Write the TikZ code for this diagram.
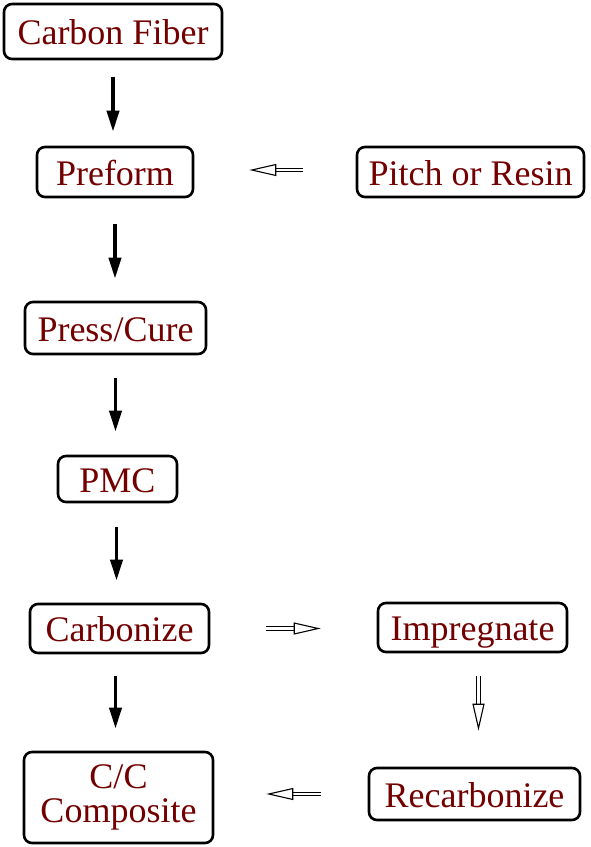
\documentclass[tikz,border=0pt]{standalone}
\usepackage{fontspec}
\setmainfont{Liberation Serif}
\usepackage{xcolor}
\usetikzlibrary{arrows.meta, calc}
\definecolor{step_red}{RGB}{115,0,0}

\tikzset{
  stage/.style={draw, line width=2.6pt, rounded corners=8pt, inner sep=0pt,
    text=step_red, align=center, font=\fontsize{36}{34}\selectfont},
  oneline/.style={stage, text height=26pt, text depth=0pt},
  solidflow/.style={line width=3.8pt, -{Triangle[length=21pt, width=12pt]}},
  hollowflow/.style={line width=1.1pt, double distance=2.2pt,
    -{Triangle[open, length=27pt, width=12pt]}},
}

\begin{document}
\begin{tikzpicture}[x=1pt,y=-1pt]
            \useasboundingbox (0,0) rectangle (591,847);
            %左の列
            \node[oneline, minimum width=218pt, minimum height=55pt] (carbonfiber) at (113,31.5) {Carbon Fiber};
            \node[oneline, minimum width=156pt, minimum height=50pt] (preform) at (115,172) {Preform};
            \node[oneline, minimum width=181pt, minimum height=52pt] (press) at (115.5,328) {Press/Cure};
            \node[oneline, minimum width=119pt, minimum height=46pt] (pmc) at (117.5,479) {PMC};
            \node[oneline, minimum width=179pt, minimum height=49pt] (carbonize) at (119.5,628.5) {Carbonize};
            \node[stage, minimum width=189pt, minimum height=91pt] (cc) at (118.5,797.5) {C/C\\Composite};
            %右の列
            \node[oneline, minimum width=227pt, minimum height=50pt] (pitch) at (470.5,172) {Pitch or Resin};
            \node[oneline, minimum width=189pt, minimum height=49pt] (impregnate) at (472.5,627.5) {Impregnate};
            \node[oneline, minimum width=211pt, minimum height=52pt] (recarbonize) at (474.5,794) {Recarbonize};
            %黒い矢印
            \draw[solidflow, shorten <=17pt, shorten >=14pt] (carbonfiber.south) -- (carbonfiber.south |- preform.north);
            \draw[solidflow, shorten <=26pt, shorten >=22pt] (preform.south) -- (preform.south |- press.north);
            \draw[solidflow, shorten <=23pt, shorten >=23pt] (press.south) -- (press.south |- pmc.north);
            \draw[solidflow, shorten <=24pt, shorten >=22pt] ([xshift=-1pt]pmc.south) -- ([xshift=-1pt]pmc.south |- carbonize.north);
            \draw[solidflow, shorten <=22pt, shorten >=22pt] ([xshift=-4pt]carbonize.south) -- ([xshift=-4pt]carbonize.south |- cc.north);
            %白抜きの矢印
            \draw[hollowflow, shorten <=53pt, shorten >=55pt] ([yshift=2pt]pitch.west) -- ([yshift=2pt]pitch.west -| preform.east);
            \draw[hollowflow, shorten <=56pt, shorten >=56pt] (carbonize.east) -- (carbonize.east -| impregnate.west);
            \draw[hollowflow, shorten <=23pt, shorten >=36pt] ([xshift=6pt]impregnate.south) -- ([xshift=6pt]impregnate.south |- recarbonize.north);
            \draw[hollowflow, shorten <=47pt, shorten >=52pt] (recarbonize.west) -- (recarbonize.west -| cc.east);
        \end{tikzpicture}
\end{document}
